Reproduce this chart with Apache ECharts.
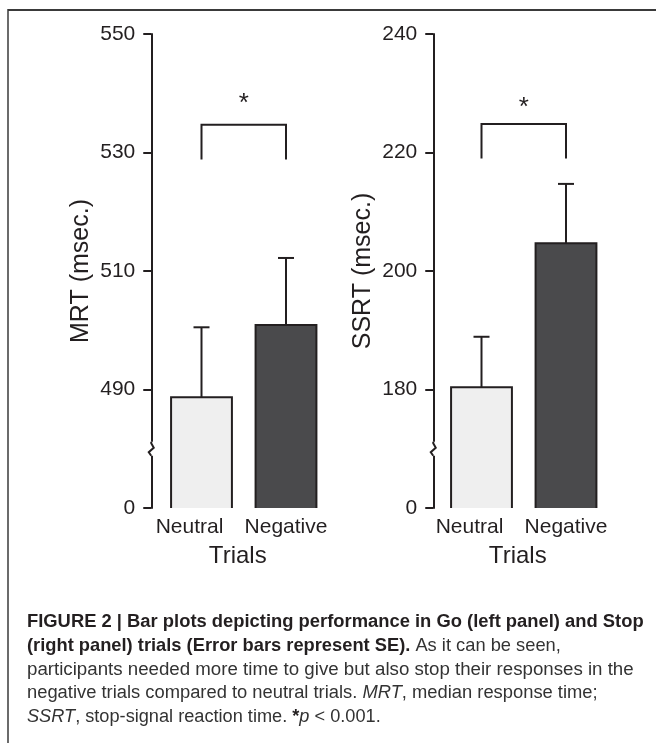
<!DOCTYPE html>
<html>
<head>
<meta charset="utf-8">
<script src="https://cdn.jsdelivr.net/npm/echarts@6/dist/echarts.min.js"></script>
<style>
html,body{margin:0;padding:0;background:#fff;}
#c{width:656px;height:743px;}
</style>
</head>
<body>
<div id="c"></div>
<script>
// ---------- data ----------
const categories = ['Neutral', 'Negative'];
const mrtMean = [488.7, 500.9];
const mrtSE = [11.8, 11.3];
const ssrtMean = [180.4, 204.7];
const ssrtSE = [8.5, 10.0];
const mrtTickLabels = ['0', '490', '510', '530', '550'];
const ssrtTickLabels = ['0', '180', '200', '220', '240'];
const axisBase = [470, 160];      // value represented at the broken axis bottom ("0")
const axisSpan = 80;
const tickStep = 20;
const bracketLow = [528.8, 219.0];
const bracketHigh = [534.7, 224.8];
const starLevel = [539.3, 228.6];
const yNames = ['MRT (msec.)', 'SSRT (msec.)'];
const xName = 'Trials';
const starText = '*';

const captionLines = [
  [['b', 'FIGURE 2 | Bar plots depicting performance in Go (left panel) and Stop']],
  [['b', '(right panel) trials (Error bars represent SE).'], ['r', ' As it can be seen,']],
  [['r', 'participants needed more time to give but also stop their responses in the']],
  [['r', 'negative trials compared to neutral trials. '], ['i', 'MRT'], ['r', ', median response time;']],
  [['i', 'SSRT'], ['r', ', stop-signal reaction time. '], ['b', '*'], ['i', 'p'], ['r', ' < 0.001.']]
];

// ---------- styling ----------
const FONT = '"Liberation Sans", Arial, Helvetica, sans-serif';
const INK = '#231f20';
const fills = ['#efefef', '#4a4a4c'];

const chart = echarts.init(document.getElementById('c'), null, {renderer: 'canvas'});

const panels = [
  {mean: mrtMean, se: mrtSE, ticks: mrtTickLabels, left: 159.25, offset: 8},
  {mean: ssrtMean, se: ssrtSE, ticks: ssrtTickLabels, left: 439.25, offset: 6}
];
const gridTop = 34, gridHeight = 474, gridWidth = 169;

const grids = [], xAxes = [], yAxes = [], series = [];
panels.forEach((p, i) => {
  const base = axisBase[i];
  grids.push({left: p.left, top: gridTop, width: gridWidth, height: gridHeight});
  xAxes.push({
    gridIndex: i, type: 'category', data: categories,
    axisLine: {show: false}, axisTick: {show: false},
    axisLabel: {
      interval: 0, hideOverlap: false,
      fontSize: 21, color: INK, fontFamily: FONT, margin: 9,
      formatter: v => v === 'Neutral' ? '{n|' + v + '}' : v,
      rich: {n: {fontSize: 21, color: INK, fontFamily: FONT, padding: [0, 24, 0, 0]}}
    },
    name: xName, nameLocation: 'middle', nameGap: 36,
    nameTextStyle: {fontSize: 24, color: INK, fontFamily: FONT, padding: [0, 12, 0, 0]}
  });
  yAxes.push({
    gridIndex: i, type: 'value', min: 0, max: axisSpan, interval: tickStep, offset: p.offset,
    axisLine: {show: true, lineStyle: {color: INK, width: 2}},
    axisTick: {show: true, length: 8, lineStyle: {color: INK, width: 2}},
    axisLabel: {fontSize: 21, color: INK, fontFamily: FONT, margin: 16,
      formatter: v => p.ticks[Math.round(v / tickStep)]},
    splitLine: {show: false},
    name: yNames[i], nameLocation: 'middle', nameGap: 58,
    nameTextStyle: {fontSize: 25, color: INK, fontFamily: FONT}
  });
  // bars (open at bottom, like the original)
  series.push({
    type: 'custom', xAxisIndex: i, yAxisIndex: i, z: 2,
    data: p.mean.map((m, k) => [k, m - base]),
    renderItem: (params, api) => {
      const k = api.value(0);
      const top = api.coord([k, api.value(1)]);
      const bot = api.coord([k, 0]);
      const bw = api.size([1, 0])[0] * 0.72;
      const l = top[0] - bw / 2, r = top[0] + bw / 2;
      return {type: 'group', children: [
        {type: 'rect', shape: {x: l, y: top[1], width: bw, height: bot[1] - top[1]},
          style: {fill: fills[k]}},
        {type: 'polyline', shape: {points: [[l, bot[1]], [l, top[1]], [r, top[1]], [r, bot[1]]]},
          style: {stroke: INK, lineWidth: 2, fill: null}}
      ]};
    }
  });
  // error bars (upper SE)
  series.push({
    type: 'custom', xAxisIndex: i, yAxisIndex: i, z: 3,
    data: p.mean.map((m, k) => [k, m - base, m + p.se[k] - base]),
    renderItem: (params, api) => {
      const k = api.value(0);
      const a = api.coord([k, api.value(1)]);
      const b = api.coord([k, api.value(2)]);
      return {type: 'group', children: [
        {type: 'line', shape: {x1: a[0], y1: a[1], x2: b[0], y2: b[1]}, style: {stroke: INK, lineWidth: 2}},
        {type: 'line', shape: {x1: b[0] - 8, y1: b[1], x2: b[0] + 8, y2: b[1]}, style: {stroke: INK, lineWidth: 2}}
      ]};
    }
  });
  // significance bracket and asterisk
  series.push({
    type: 'custom', xAxisIndex: i, yAxisIndex: i, z: 3,
    data: [[0, 1, bracketLow[i] - base, bracketHigh[i] - base, starLevel[i] - base]],
    renderItem: (params, api) => {
      const p1 = api.coord([api.value(0), api.value(2)]);
      const p2 = api.coord([api.value(0), api.value(3)]);
      const p3 = api.coord([api.value(1), api.value(3)]);
      const p4 = api.coord([api.value(1), api.value(2)]);
      const sy = api.coord([api.value(0), api.value(4)])[1];
      const sx = (p2[0] + p3[0]) / 2;
      return {type: 'group', children: [
        {type: 'polyline', shape: {points: [p1, p2, p3, p4]}, style: {stroke: INK, lineWidth: 2, fill: null}},
        {type: 'text', x: sx, y: sy + 6,
          style: {text: starText, fontSize: 26, fontFamily: FONT, fill: INK, align: 'center', verticalAlign: 'middle'}}
      ]};
    }
  });
});

chart.setOption({
  animation: false,
  backgroundColor: '#fff',
  grid: grids, xAxis: xAxes, yAxis: yAxes, series: series
});

// ---------- decorations: axis breaks, frame, caption ----------
const graphics = [];
panels.forEach((p, i) => {
  const ax = p.left - p.offset;
  const yMid = chart.convertToPixel({yAxisIndex: i}, axisSpan / 8);
  graphics.push({type: 'rect', shape: {x: ax - 3, y: yMid - 7, width: 6, height: 14}, style: {fill: '#fff'}, z: 100});
  graphics.push({type: 'polyline', z: 101,
    shape: {points: [[ax, yMid - 7], [ax, yMid - 5.5], [ax + 2.5, yMid - 1], [ax - 2.5, yMid + 3.5], [ax, yMid + 7]]},
    style: {stroke: INK, lineWidth: 2, fill: null}});
});
graphics.push({type: 'line', shape: {x1: 8, y1: 10, x2: 656, y2: 10}, style: {stroke: '#3a3a3a', lineWidth: 2}});
graphics.push({type: 'line', shape: {x1: 8, y1: 9, x2: 8, y2: 743}, style: {stroke: '#3a3a3a', lineWidth: 1.5}});

const capLeft = 27;
const capRight = [644, 561, 634, 598, 381];
const capY0 = 622, capStep = 23.75;
const ctx = document.createElement('canvas').getContext('2d');
const fontOf = (t, sz) => (t === 'b' ? 'bold ' : t === 'i' ? 'italic ' : '') + sz + 'px ' + FONT;
captionLines.forEach((segs, li) => {
  let w = 0;
  segs.forEach(([t, s]) => { ctx.font = fontOf(t, 18); w += ctx.measureText(s).width; });
  let sz = 18 * (capRight[li] - capLeft) / w;
  sz = Math.max(16.5, Math.min(19.5, sz));
  const rich = {
    b: {fontSize: sz, fontWeight: 'bold', fontFamily: FONT, fill: INK, color: INK},
    r: {fontSize: sz, fontFamily: FONT, fill: '#333', color: '#333'},
    i: {fontSize: sz, fontStyle: 'italic', fontFamily: FONT, fill: '#333', color: '#333'}
  };
  graphics.push({type: 'text', x: capLeft, y: capY0 + li * capStep,
    style: {text: segs.map(([t, s]) => '{' + t + '|' + s + '}').join(''), rich: rich,
      fontSize: sz, fontFamily: FONT, verticalAlign: 'middle', align: 'left'}});
});

chart.setOption({graphic: graphics});
</script>
</body>
</html>
